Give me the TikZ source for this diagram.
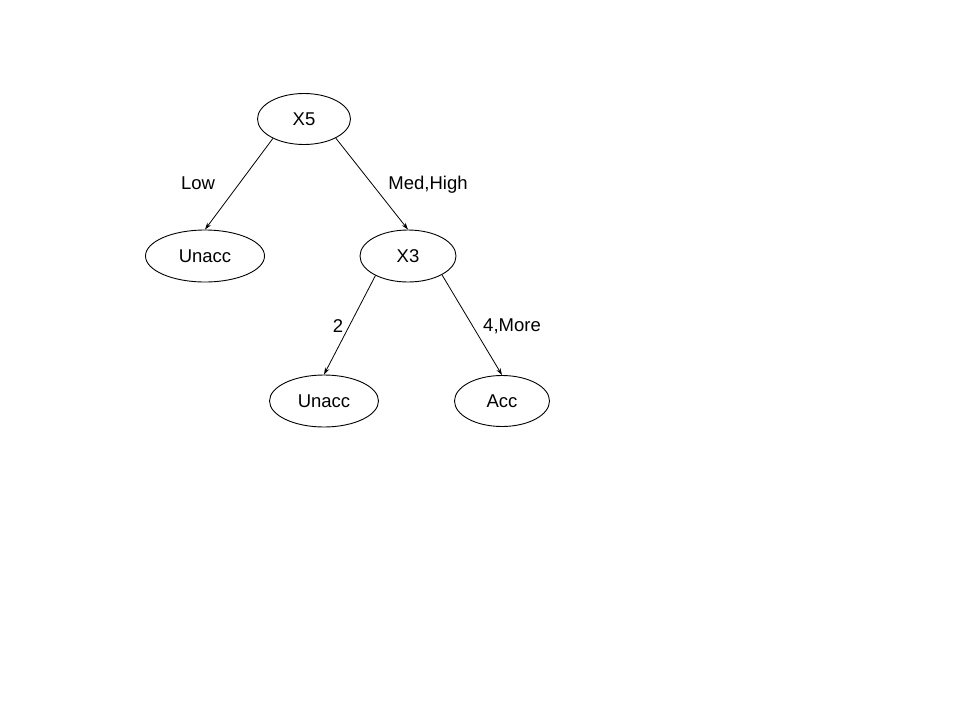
\documentclass[tikz,border=0pt]{standalone}
\usepackage{fontspec}
\setmainfont{Liberation Sans}
\usetikzlibrary{shapes.geometric,arrows.meta}
\begin{document}
\begin{tikzpicture}[x=1pt,y=-1pt,
  treenode/.style={draw,ellipse,line width=0.9pt,inner sep=0pt,
    font=\fontsize{18.5}{22}\selectfont},
  branch/.style={line width=0.8pt,-{Stealth[length=7pt,width=4.5pt]}},
  edgetext/.style={font=\fontsize{18.5}{22}\selectfont,inner sep=0pt}]
\useasboundingbox (0,0) rectangle (960,720);
\node[treenode,minimum width=93pt,minimum height=51pt] (x5) at (304,119) {X5};
\node[treenode,minimum width=119pt,minimum height=52pt] (u1) at (205,256) {Unacc};
\node[treenode,minimum width=96pt,minimum height=52pt] (x3) at (408,256) {X3};
\node[treenode,minimum width=109pt,minimum height=52pt] (u2) at (324,401) {Unacc};
\node[treenode,minimum width=95pt,minimum height=51pt] (acc) at (502,401) {Acc};
\draw[branch] (x5.212) -- (u1.north);
\draw[branch] (x5.-31) -- (x3.north);
\draw[branch] (x3.211) -- (u2.north);
\draw[branch] (x3.-29) -- (acc.north);
\node[edgetext] (lLow) at (198,183) {Low};
\node[edgetext] (lMed) at (428,185) {Med,High};
\node[edgetext] (lTwo) at (338,326) {2};
\node[edgetext] (lMore) at (512,326) {4,More};
\end{tikzpicture}
\end{document}
